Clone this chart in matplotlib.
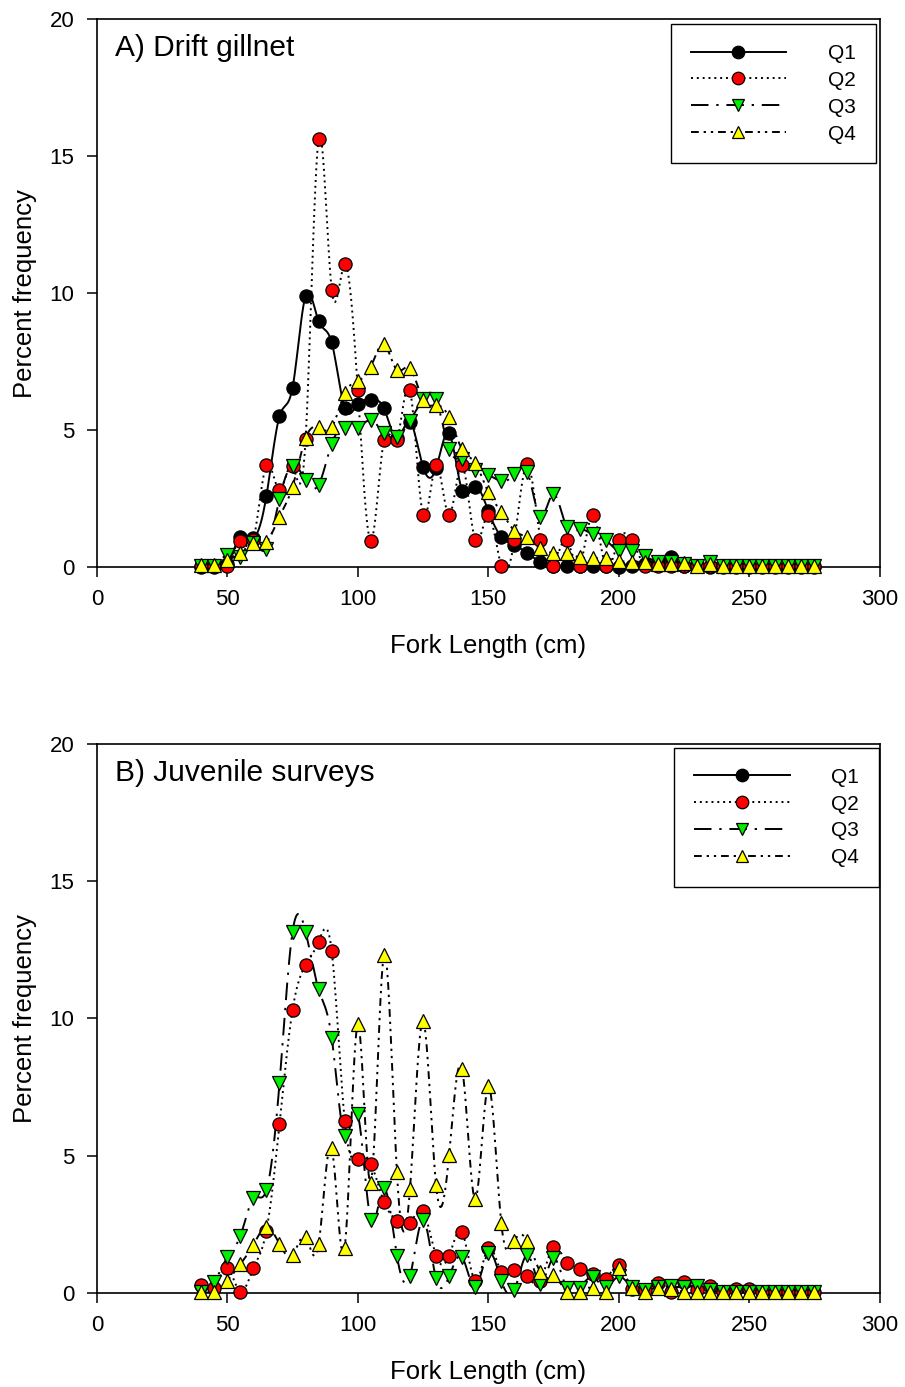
import numpy as np
import matplotlib
matplotlib.use("Agg")
import matplotlib.pyplot as plt
from matplotlib.lines import Line2D

plt.rcParams['font.family'] = ['Liberation Sans', 'DejaVu Sans']

# fork length classes (cm)
fork_len = list(range(40, 280, 5))

# A) Drift gillnet - percent frequency by quarter
gill_q1 = [0, 0, 0.1, 1.1, 1.05, 2.6, 5.5, 6.55, 9.9, 8.98, 8.2, 5.8, 5.95, 6.1, 5.8, 4.7,
           5.3, 3.66, 3.6, 4.88, 2.78, 2.93, 2.05, 1.1, 0.8, 0.5, 0.19, 0.05, 0.03, 0.03, 0.03, 0.03,
           0.0, 0.05, 0.1, 0.2, 0.35, 0.05, 0.02, 0.0, 0.0, 0.0, 0.0, 0.0, 0.0, 0.0, 0.0, 0.0]
gill_q2 = [0.05, 0.05, 0.05, 0.96, 1.0, 3.72, 2.81, 3.7, 4.66, 15.64, 10.13, 11.06, 6.46, 0.96, 4.63, 4.63,
           6.46, 1.9, 3.72, 1.9, 3.72, 0.98, 1.9, 0.05, 0.98, 3.75, 0.98, 0.05, 0.98, 0.05, 1.9, 0.05,
           0.98, 0.98, 0.05, 0.05, 0.05, 0.05, 0.05, 0.05, 0.05, 0.05, 0.05, 0.05, 0.05, 0.05, 0.05, 0.05]
gill_q3 = [0.03, 0.05, 0.44, 0.38, 0.87, 0.65, 2.5, 3.7, 3.17, 3.0, 4.5, 5.08, 5.08, 5.36, 4.88, 4.76,
           5.34, 6.12, 6.12, 4.3, 3.93, 3.54, 3.36, 3.14, 3.38, 3.48, 1.84, 2.66, 1.47, 1.37, 1.19, 0.98,
           0.58, 0.58, 0.4, 0.2, 0.2, 0.1, 0.05, 0.2, 0.05, 0.03, 0.03, 0.03, 0.03, 0.03, 0.03, 0.03]
gill_q4 = [0.07, 0.07, 0.25, 0.5, 0.86, 0.92, 1.84, 2.93, 4.7, 5.1, 5.1, 6.34, 6.79, 7.31, 8.14, 7.19,
           7.27, 6.09, 5.91, 5.46, 4.29, 3.8, 2.73, 2.02, 1.33, 1.08, 0.68, 0.52, 0.5, 0.35, 0.33, 0.32,
           0.22, 0.2, 0.17, 0.1, 0.1, 0.15, 0.05, 0.1, 0.05, 0.05, 0.05, 0.05, 0.05, 0.05, 0.05, 0.05]

# B) Juvenile surveys - no Q1 data
juv_q1 = []
juv_q2 = [0.29, 0.18, 0.9, 0.05, 0.9, 2.27, 6.16, 10.31, 11.95, 12.8, 12.46, 6.28, 4.87, 4.7, 3.33, 2.63,
          2.54, 2.99, 1.35, 1.35, 2.21, 0.45, 1.63, 0.78, 0.84, 0.6, 0.45, 1.69, 1.08, 0.86, 0.69, 0.5,
          1.02, 0.15, 0.1, 0.35, 0.05, 0.41, 0.1, 0.25, 0.05, 0.15, 0.15, 0.05, 0.05, 0.05, 0.05, 0.05]
juv_q3 = [0.05, 0.41, 1.3, 2.08, 3.45, 3.75, 7.64, 13.16, 13.16, 11.06, 9.3, 5.72, 6.51, 2.66, 3.81, 1.36,
          0.62, 2.66, 0.53, 0.6, 1.3, 0.2, 1.45, 0.45, 0.1, 1.38, 0.33, 1.26, 0.17, 0.17, 0.57, 0.21,
          0.6, 0.2, 0.1, 0.2, 0.25, 0.2, 0.25, 0.1, 0.05, 0.05, 0.05, 0.05, 0.05, 0.05, 0.05, 0.05]
juv_q4 = [0.05, 0.05, 0.45, 1.05, 1.76, 2.39, 1.78, 1.38, 2.03, 1.78, 5.29, 1.65, 9.8, 4.02, 12.31, 4.4,
          3.78, 9.91, 3.93, 5.03, 8.16, 3.41, 7.54, 2.54, 1.9, 1.9, 0.78, 0.66, 0.05, 0.05, 0.17, 0.05,
          0.9, 0.17, 0.05, 0.17, 0.15, 0.05, 0.05, 0.05, 0.05, 0.05, 0.05, 0.05, 0.05, 0.05, 0.05, 0.05]

quarters = ["Q1", "Q2", "Q3", "Q4"]
colors = ["black", "red", "#00ee00", "yellow"]
markers = ["o", "o", "v", "^"]
styles = ["-", (0, (1.0, 2.0)), (0, (9, 4, 1.2, 4)), (0, (4, 2.5, 1.2, 2.5, 1.2, 2.5))]


def smooth(x, y, n=12):
    # natural cubic spline through the points, only used to draw the curve
    x = np.asarray(x, float)
    y = np.asarray(y, float)
    k = len(x)
    h = np.diff(x)
    A = np.zeros((k, k))
    b = np.zeros(k)
    A[0, 0] = 1
    A[-1, -1] = 1
    for i in range(1, k - 1):
        A[i, i - 1] = h[i - 1]
        A[i, i] = 2 * (h[i - 1] + h[i])
        A[i, i + 1] = h[i]
        b[i] = 6 * ((y[i + 1] - y[i]) / h[i] - (y[i] - y[i - 1]) / h[i - 1])
    M = np.linalg.solve(A, b)
    xs, ys = [], []
    for i in range(k - 1):
        t = np.linspace(x[i], x[i + 1], n, endpoint=False)
        a = x[i + 1] - t
        c = t - x[i]
        v = (M[i] * a ** 3 + M[i + 1] * c ** 3) / (6 * h[i]) \
            + (y[i] / h[i] - M[i] * h[i] / 6) * a + (y[i + 1] / h[i] - M[i + 1] * h[i] / 6) * c
        xs.extend(t)
        ys.extend(v)
    xs.append(x[-1])
    ys.append(y[-1])
    return np.array(xs), np.array(ys)


def draw_panel(ax, series, title, leg_anchor):
    for s, col, mk, ls in zip(series, colors, markers, styles):
        if len(s) == 0:
            continue
        xs, ys = smooth(fork_len, s)
        ax.plot(xs, ys, color="black", lw=1.4, linestyle=ls)
        ax.plot(fork_len, s, linestyle="none", marker=mk, ms=9.5, mfc=col, mec="black",
                mew=0.9, clip_on=False, zorder=3)
    ax.set_xlim(0, 300)
    ax.set_ylim(0, 20)
    ax.set_xticks([0, 50, 100, 150, 200, 250, 300])
    ax.set_yticks([0, 5, 10, 15, 20])
    ax.tick_params(direction="out", length=7, width=1.1, labelsize=16, pad=9)
    for sp in ax.spines.values():
        sp.set_linewidth(1.2)
    ax.set_xlabel("Fork Length (cm)", fontsize=18.5)
    ax.set_ylabel("Percent frequency", fontsize=18.5)
    ax.xaxis.set_label_coords(0.5, -0.123)
    ax.yaxis.set_label_coords(-0.077, 0.5)
    ax.text(0.023, 0.972, title, transform=ax.transAxes, fontsize=21.5, va="top", ha="left")
    handles = [Line2D([], [], color="black", lw=1.4, linestyle=ls, marker=mk, ms=9,
                      mfc=col, mec="black", mew=0.9)
               for col, mk, ls in zip(colors, markers, styles)]
    leg = ax.legend(handles, quarters, loc="upper right", bbox_to_anchor=leg_anchor,
                    fontsize=15, handlelength=4.6, numpoints=1, fancybox=False,
                    edgecolor="black", framealpha=1, borderpad=0.95, labelspacing=0.38,
                    handletextpad=2.0, borderaxespad=0)
    leg.get_frame().set_linewidth(1.0)


fig = plt.figure(figsize=(9.05, 13.87), dpi=100)
ax1 = fig.add_axes([0.107, 0.5912, 0.865, 0.395])
ax2 = fig.add_axes([0.107, 0.0678, 0.865, 0.3958])

draw_panel(ax1, [gill_q1, gill_q2, gill_q3, gill_q4], "A) Drift gillnet", (0.995, 0.991))
draw_panel(ax2, [juv_q1, juv_q2, juv_q3, juv_q4], "B) Juvenile surveys", (0.999, 0.993))

fig.savefig("out.png", dpi=100)
